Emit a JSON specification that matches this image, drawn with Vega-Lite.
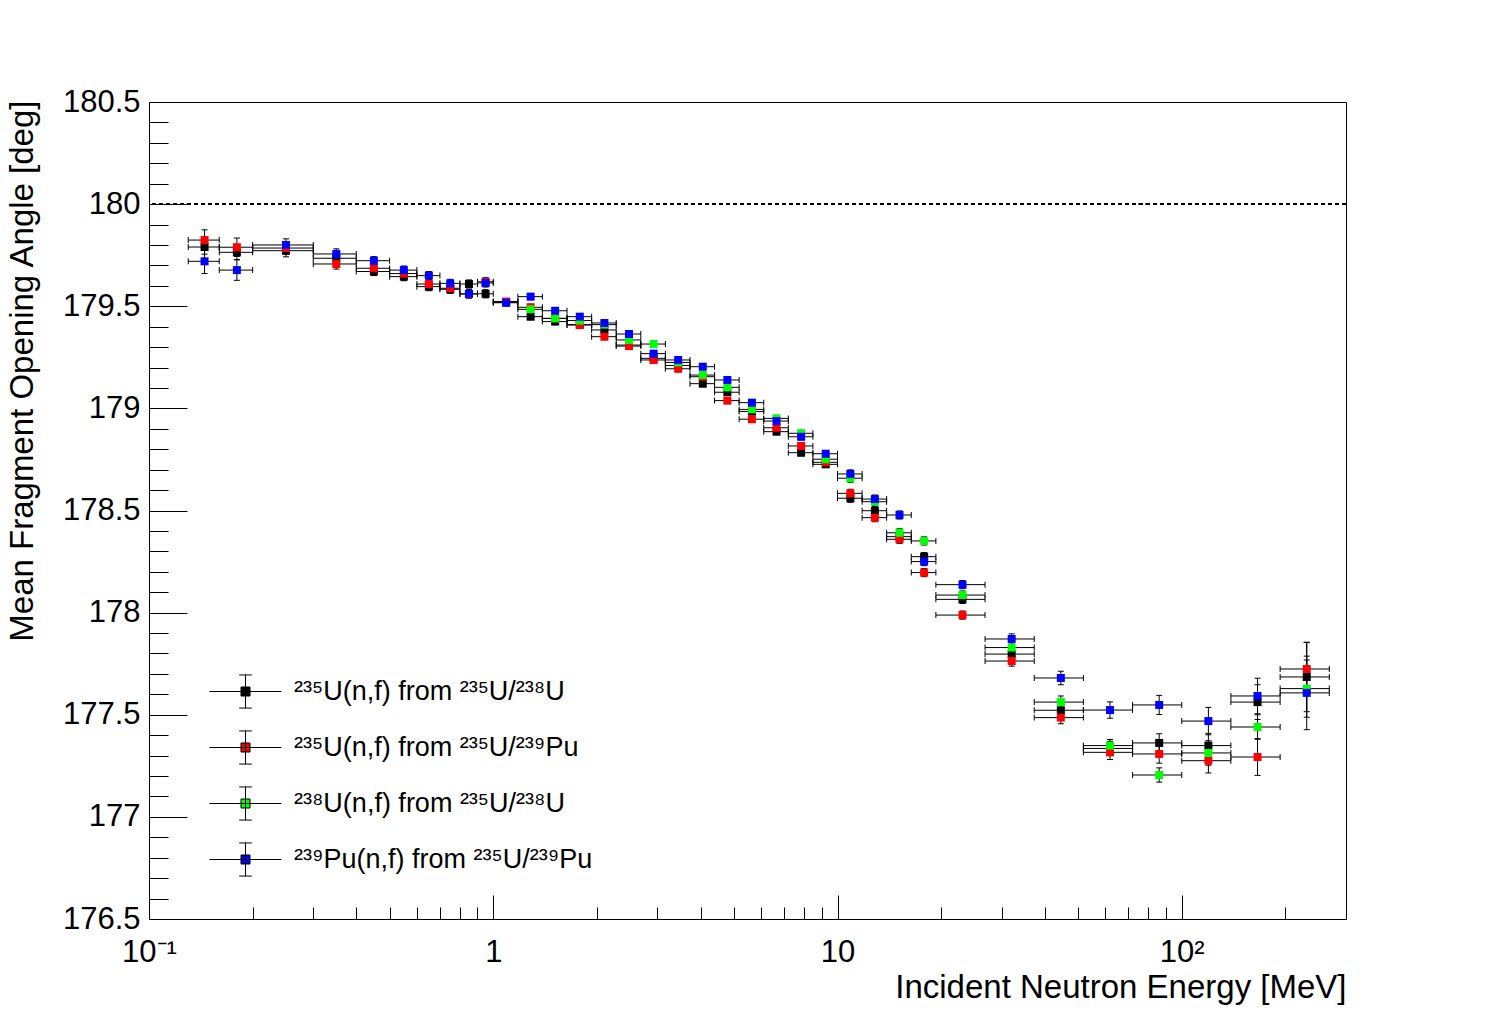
{
  "$schema": "https://vega.github.io/schema/vega-lite/v6.json",
  "background": "white",
  "autosize": {"type": "none"},
  "padding": {"left": 149, "top": 102, "right": 150, "bottom": 103},
  "width": 1197,
  "height": 817,
  "data": {
    "values": [
      {"s": "a", "e": 0.145, "lo": 0.13, "hi": 0.16, "y": 179.79, "err": 0.035},
      {"s": "a", "e": 0.18, "lo": 0.16, "hi": 0.2, "y": 179.764, "err": 0.035},
      {"s": "a", "e": 0.25, "lo": 0.2, "hi": 0.3, "y": 179.772, "err": 0.03},
      {"s": "a", "e": 0.35, "lo": 0.3, "hi": 0.4, "y": 179.735, "err": 0.025},
      {"s": "a", "e": 0.45, "lo": 0.4, "hi": 0.5, "y": 179.67, "err": 0.02},
      {"s": "a", "e": 0.55, "lo": 0.5, "hi": 0.6, "y": 179.645, "err": 0.02},
      {"s": "a", "e": 0.65, "lo": 0.6, "hi": 0.7, "y": 179.596, "err": 0.02},
      {"s": "a", "e": 0.75, "lo": 0.7, "hi": 0.8, "y": 179.583, "err": 0.02},
      {"s": "a", "e": 0.85, "lo": 0.8, "hi": 0.9, "y": 179.609, "err": 0.02},
      {"s": "a", "e": 0.95, "lo": 0.9, "hi": 1.0, "y": 179.561, "err": 0.02},
      {"s": "a", "e": 1.09, "lo": 1.0, "hi": 1.179, "y": 179.52, "err": 0.015},
      {"s": "a", "e": 1.284, "lo": 1.179, "hi": 1.389, "y": 179.449, "err": 0.015},
      {"s": "a", "e": 1.513, "lo": 1.389, "hi": 1.638, "y": 179.425, "err": 0.015},
      {"s": "a", "e": 1.784, "lo": 1.638, "hi": 1.931, "y": 179.41, "err": 0.015},
      {"s": "a", "e": 2.103, "lo": 1.931, "hi": 2.276, "y": 179.384, "err": 0.015},
      {"s": "a", "e": 2.479, "lo": 2.276, "hi": 2.683, "y": 179.31, "err": 0.015},
      {"s": "a", "e": 2.923, "lo": 2.683, "hi": 3.162, "y": 179.245, "err": 0.015},
      {"s": "a", "e": 3.445, "lo": 3.162, "hi": 3.728, "y": 179.21, "err": 0.015},
      {"s": "a", "e": 4.061, "lo": 3.728, "hi": 4.394, "y": 179.121, "err": 0.015},
      {"s": "a", "e": 4.787, "lo": 4.394, "hi": 5.179, "y": 179.079, "err": 0.015},
      {"s": "a", "e": 5.642, "lo": 5.179, "hi": 6.105, "y": 178.985, "err": 0.015},
      {"s": "a", "e": 6.651, "lo": 6.105, "hi": 7.197, "y": 178.886, "err": 0.015},
      {"s": "a", "e": 7.84, "lo": 7.197, "hi": 8.483, "y": 178.783, "err": 0.015},
      {"s": "a", "e": 9.242, "lo": 8.483, "hi": 10, "y": 178.726, "err": 0.015},
      {"s": "a", "e": 10.9, "lo": 10, "hi": 11.79, "y": 178.56, "err": 0.02},
      {"s": "a", "e": 12.84, "lo": 11.79, "hi": 13.89, "y": 178.499, "err": 0.02},
      {"s": "a", "e": 15.14, "lo": 13.89, "hi": 16.38, "y": 178.372, "err": 0.02},
      {"s": "a", "e": 17.85, "lo": 16.38, "hi": 19.31, "y": 178.274, "err": 0.02},
      {"s": "a", "e": 23.07, "lo": 19.31, "hi": 26.83, "y": 178.065, "err": 0.02},
      {"s": "a", "e": 32.06, "lo": 26.83, "hi": 37.28, "y": 177.797, "err": 0.025},
      {"s": "a", "e": 44.54, "lo": 37.28, "hi": 51.79, "y": 177.522, "err": 0.03},
      {"s": "a", "e": 61.88, "lo": 51.79, "hi": 71.97, "y": 177.335, "err": 0.035},
      {"s": "a", "e": 85.99, "lo": 71.97, "hi": 100, "y": 177.362, "err": 0.045},
      {"s": "a", "e": 119.5, "lo": 100, "hi": 138.9, "y": 177.349, "err": 0.06},
      {"s": "a", "e": 166, "lo": 138.9, "hi": 193.1, "y": 177.562, "err": 0.085},
      {"s": "a", "e": 230.7, "lo": 193.1, "hi": 268.3, "y": 177.685, "err": 0.17},

      {"s": "b", "e": 0.145, "lo": 0.13, "hi": 0.16, "y": 179.824, "err": 0.05},
      {"s": "b", "e": 0.18, "lo": 0.16, "hi": 0.2, "y": 179.789, "err": 0.045},
      {"s": "b", "e": 0.25, "lo": 0.2, "hi": 0.3, "y": 179.785, "err": 0.03},
      {"s": "b", "e": 0.35, "lo": 0.3, "hi": 0.4, "y": 179.707, "err": 0.025},
      {"s": "b", "e": 0.45, "lo": 0.4, "hi": 0.5, "y": 179.686, "err": 0.02},
      {"s": "b", "e": 0.55, "lo": 0.5, "hi": 0.6, "y": 179.66, "err": 0.02},
      {"s": "b", "e": 0.65, "lo": 0.6, "hi": 0.7, "y": 179.609, "err": 0.02},
      {"s": "b", "e": 0.75, "lo": 0.7, "hi": 0.8, "y": 179.588, "err": 0.02},
      {"s": "b", "e": 0.85, "lo": 0.8, "hi": 0.9, "y": 179.56, "err": 0.02},
      {"s": "b", "e": 0.95, "lo": 0.9, "hi": 1.0, "y": 179.62, "err": 0.02},
      {"s": "b", "e": 1.09, "lo": 1.0, "hi": 1.179, "y": 179.523, "err": 0.015},
      {"s": "b", "e": 1.284, "lo": 1.179, "hi": 1.389, "y": 179.495, "err": 0.015},
      {"s": "b", "e": 1.513, "lo": 1.389, "hi": 1.638, "y": 179.44, "err": 0.015},
      {"s": "b", "e": 1.784, "lo": 1.638, "hi": 1.931, "y": 179.408, "err": 0.015},
      {"s": "b", "e": 2.103, "lo": 1.931, "hi": 2.276, "y": 179.351, "err": 0.015},
      {"s": "b", "e": 2.479, "lo": 2.276, "hi": 2.683, "y": 179.305, "err": 0.015},
      {"s": "b", "e": 2.923, "lo": 2.683, "hi": 3.162, "y": 179.237, "err": 0.015},
      {"s": "b", "e": 3.445, "lo": 3.162, "hi": 3.728, "y": 179.194, "err": 0.015},
      {"s": "b", "e": 4.061, "lo": 3.728, "hi": 4.394, "y": 179.155, "err": 0.015},
      {"s": "b", "e": 4.787, "lo": 4.394, "hi": 5.179, "y": 179.038, "err": 0.015},
      {"s": "b", "e": 5.642, "lo": 5.179, "hi": 6.105, "y": 178.947, "err": 0.015},
      {"s": "b", "e": 6.651, "lo": 6.105, "hi": 7.197, "y": 178.905, "err": 0.015},
      {"s": "b", "e": 7.84, "lo": 7.197, "hi": 8.483, "y": 178.816, "err": 0.015},
      {"s": "b", "e": 9.242, "lo": 8.483, "hi": 10, "y": 178.736, "err": 0.015},
      {"s": "b", "e": 10.9, "lo": 10, "hi": 11.79, "y": 178.584, "err": 0.02},
      {"s": "b", "e": 12.84, "lo": 11.79, "hi": 13.89, "y": 178.465, "err": 0.02},
      {"s": "b", "e": 15.14, "lo": 13.89, "hi": 16.38, "y": 178.359, "err": 0.02},
      {"s": "b", "e": 17.85, "lo": 16.38, "hi": 19.31, "y": 178.196, "err": 0.02},
      {"s": "b", "e": 23.07, "lo": 19.31, "hi": 26.83, "y": 177.988, "err": 0.02},
      {"s": "b", "e": 32.06, "lo": 26.83, "hi": 37.28, "y": 177.763, "err": 0.025},
      {"s": "b", "e": 44.54, "lo": 37.28, "hi": 51.79, "y": 177.486, "err": 0.03},
      {"s": "b", "e": 61.88, "lo": 51.79, "hi": 71.97, "y": 177.316, "err": 0.035},
      {"s": "b", "e": 85.99, "lo": 71.97, "hi": 100, "y": 177.308, "err": 0.045},
      {"s": "b", "e": 119.5, "lo": 100, "hi": 138.9, "y": 177.275, "err": 0.06},
      {"s": "b", "e": 166, "lo": 138.9, "hi": 193.1, "y": 177.293, "err": 0.09},
      {"s": "b", "e": 230.7, "lo": 193.1, "hi": 268.3, "y": 177.724, "err": 0.13},

      {"s": "c", "e": 1.284, "lo": 1.179, "hi": 1.389, "y": 179.485, "err": 0.015},
      {"s": "c", "e": 1.513, "lo": 1.389, "hi": 1.638, "y": 179.441, "err": 0.015},
      {"s": "c", "e": 1.784, "lo": 1.638, "hi": 1.931, "y": 179.43, "err": 0.015},
      {"s": "c", "e": 2.103, "lo": 1.931, "hi": 2.276, "y": 179.41, "err": 0.015},
      {"s": "c", "e": 2.479, "lo": 2.276, "hi": 2.683, "y": 179.335, "err": 0.015},
      {"s": "c", "e": 2.923, "lo": 2.683, "hi": 3.162, "y": 179.315, "err": 0.015},
      {"s": "c", "e": 3.445, "lo": 3.162, "hi": 3.728, "y": 179.225, "err": 0.015},
      {"s": "c", "e": 4.061, "lo": 3.728, "hi": 4.394, "y": 179.163, "err": 0.015},
      {"s": "c", "e": 4.787, "lo": 4.394, "hi": 5.179, "y": 179.103, "err": 0.015},
      {"s": "c", "e": 5.642, "lo": 5.179, "hi": 6.105, "y": 178.995, "err": 0.015},
      {"s": "c", "e": 6.651, "lo": 6.105, "hi": 7.197, "y": 178.951, "err": 0.015},
      {"s": "c", "e": 7.84, "lo": 7.197, "hi": 8.483, "y": 178.878, "err": 0.015},
      {"s": "c", "e": 9.242, "lo": 8.483, "hi": 10, "y": 178.751, "err": 0.015},
      {"s": "c", "e": 10.9, "lo": 10, "hi": 11.79, "y": 178.658, "err": 0.02},
      {"s": "c", "e": 12.84, "lo": 11.79, "hi": 13.89, "y": 178.543, "err": 0.02},
      {"s": "c", "e": 15.14, "lo": 13.89, "hi": 16.38, "y": 178.391, "err": 0.02},
      {"s": "c", "e": 17.85, "lo": 16.38, "hi": 19.31, "y": 178.351, "err": 0.02},
      {"s": "c", "e": 23.07, "lo": 19.31, "hi": 26.83, "y": 178.086, "err": 0.02},
      {"s": "c", "e": 32.06, "lo": 26.83, "hi": 37.28, "y": 177.829, "err": 0.025},
      {"s": "c", "e": 44.54, "lo": 37.28, "hi": 51.79, "y": 177.562, "err": 0.03},
      {"s": "c", "e": 61.88, "lo": 51.79, "hi": 71.97, "y": 177.349, "err": 0.03},
      {"s": "c", "e": 85.99, "lo": 71.97, "hi": 100, "y": 177.205, "err": 0.035},
      {"s": "c", "e": 119.5, "lo": 100, "hi": 138.9, "y": 177.313, "err": 0.06},
      {"s": "c", "e": 166, "lo": 138.9, "hi": 193.1, "y": 177.44, "err": 0.06},
      {"s": "c", "e": 230.7, "lo": 193.1, "hi": 268.3, "y": 177.628, "err": 0.14},

      {"s": "d", "e": 0.145, "lo": 0.13, "hi": 0.16, "y": 179.72, "err": 0.06},
      {"s": "d", "e": 0.18, "lo": 0.16, "hi": 0.2, "y": 179.677, "err": 0.05},
      {"s": "d", "e": 0.25, "lo": 0.2, "hi": 0.3, "y": 179.8, "err": 0.03},
      {"s": "d", "e": 0.35, "lo": 0.3, "hi": 0.4, "y": 179.756, "err": 0.025},
      {"s": "d", "e": 0.45, "lo": 0.4, "hi": 0.5, "y": 179.723, "err": 0.02},
      {"s": "d", "e": 0.55, "lo": 0.5, "hi": 0.6, "y": 179.677, "err": 0.02},
      {"s": "d", "e": 0.65, "lo": 0.6, "hi": 0.7, "y": 179.65, "err": 0.02},
      {"s": "d", "e": 0.75, "lo": 0.7, "hi": 0.8, "y": 179.612, "err": 0.02},
      {"s": "d", "e": 0.85, "lo": 0.8, "hi": 0.9, "y": 179.561, "err": 0.02},
      {"s": "d", "e": 0.95, "lo": 0.9, "hi": 1.0, "y": 179.614, "err": 0.02},
      {"s": "d", "e": 1.09, "lo": 1.0, "hi": 1.179, "y": 179.517, "err": 0.015},
      {"s": "d", "e": 1.284, "lo": 1.179, "hi": 1.389, "y": 179.547, "err": 0.015},
      {"s": "d", "e": 1.513, "lo": 1.389, "hi": 1.638, "y": 179.478, "err": 0.015},
      {"s": "d", "e": 1.784, "lo": 1.638, "hi": 1.931, "y": 179.449, "err": 0.015},
      {"s": "d", "e": 2.103, "lo": 1.931, "hi": 2.276, "y": 179.418, "err": 0.015},
      {"s": "d", "e": 2.479, "lo": 2.276, "hi": 2.683, "y": 179.364, "err": 0.015},
      {"s": "d", "e": 2.923, "lo": 2.683, "hi": 3.162, "y": 179.268, "err": 0.015},
      {"s": "d", "e": 3.445, "lo": 3.162, "hi": 3.728, "y": 179.237, "err": 0.015},
      {"s": "d", "e": 4.061, "lo": 3.728, "hi": 4.394, "y": 179.204, "err": 0.015},
      {"s": "d", "e": 4.787, "lo": 4.394, "hi": 5.179, "y": 179.139, "err": 0.015},
      {"s": "d", "e": 5.642, "lo": 5.179, "hi": 6.105, "y": 179.028, "err": 0.015},
      {"s": "d", "e": 6.651, "lo": 6.105, "hi": 7.197, "y": 178.938, "err": 0.015},
      {"s": "d", "e": 7.84, "lo": 7.197, "hi": 8.483, "y": 178.861, "err": 0.015},
      {"s": "d", "e": 9.242, "lo": 8.483, "hi": 10, "y": 178.778, "err": 0.015},
      {"s": "d", "e": 10.9, "lo": 10, "hi": 11.79, "y": 178.679, "err": 0.02},
      {"s": "d", "e": 12.84, "lo": 11.79, "hi": 13.89, "y": 178.556, "err": 0.02},
      {"s": "d", "e": 15.14, "lo": 13.89, "hi": 16.38, "y": 178.478, "err": 0.02},
      {"s": "d", "e": 17.85, "lo": 16.38, "hi": 19.31, "y": 178.25, "err": 0.02},
      {"s": "d", "e": 23.07, "lo": 19.31, "hi": 26.83, "y": 178.137, "err": 0.02},
      {"s": "d", "e": 32.06, "lo": 26.83, "hi": 37.28, "y": 177.871, "err": 0.025},
      {"s": "d", "e": 44.54, "lo": 37.28, "hi": 51.79, "y": 177.68, "err": 0.033},
      {"s": "d", "e": 61.88, "lo": 51.79, "hi": 71.97, "y": 177.523, "err": 0.04},
      {"s": "d", "e": 85.99, "lo": 71.97, "hi": 100, "y": 177.548, "err": 0.047},
      {"s": "d", "e": 119.5, "lo": 100, "hi": 138.9, "y": 177.469, "err": 0.067},
      {"s": "d", "e": 166, "lo": 138.9, "hi": 193.1, "y": 177.592, "err": 0.087},
      {"s": "d", "e": 230.7, "lo": 193.1, "hi": 268.3, "y": 177.607, "err": 0.18}
    ]
  },
  "encoding": {
    "x": {
      "field": "e",
      "type": "quantitative",
      "scale": {"type": "log", "domain": [0.1, 300], "nice": false},
      "axis": {
        "title": "Incident Neutron Energy [MeV]",
        "values": [0.1, 0.2, 0.3, 0.4, 0.5, 0.6, 0.7, 0.8, 0.9, 1, 2, 3, 4, 5, 6, 7, 8, 9, 10, 20, 30, 40, 50, 60, 70, 80, 90, 100, 200, 300],
        "labelExpr": "datum.value == 0.1 ? '10⁻¹' : datum.value == 1 ? '1' : datum.value == 10 ? '10' : datum.value == 100 ? '10²' : ''",
        "tickSize": {"condition": {"test": "indexof([0.1, 1, 10, 100], datum.value) >= 0", "value": -24}, "value": -12},
        "labelPadding": 42,
        "titleX": 1197,
        "titleY": 78,
        "titleAlign": "right",
        "titleBaseline": "alphabetic",
        "titleAngle": 0
      }
    },
    "y": {
      "field": "y",
      "type": "quantitative",
      "scale": {"domain": [176.5, 180.5], "nice": false, "zero": false},
      "axis": {
        "title": "Mean Fragment Opening Angle [deg]",
        "values": [176.5, 176.6, 176.7, 176.8, 176.9, 177, 177.1, 177.2, 177.3, 177.4, 177.5, 177.6, 177.7, 177.8, 177.9, 178, 178.1, 178.2, 178.3, 178.4, 178.5, 178.6, 178.7, 178.8, 178.9, 179, 179.1, 179.2, 179.3, 179.4, 179.5, 179.6, 179.7, 179.8, 179.9, 180, 180.1, 180.2, 180.3, 180.4, 180.5],
        "labelExpr": "(datum.value * 10) % 5 == 0 ? format(datum.value, '~g') : ''",
        "tickSize": {"condition": {"test": "(datum.value * 10) % 5 == 0", "value": -38}, "value": -19},
        "labelPadding": 47,
        "titleX": -143,
        "titleY": -2,
        "titleAngle": 270,
        "titleAlign": "right",
        "titleBaseline": "top"
      }
    }
  },
  "layer": [
    {
      "mark": {"type": "rule", "color": "black", "strokeWidth": 1, "strokeDash": [4, 3]},
      "encoding": {"y": {"datum": 180}, "x": null}
    },
    {
      "mark": {"type": "rule", "color": "black", "strokeWidth": 1},
      "encoding": {"x": {"field": "lo", "type": "quantitative"}, "x2": {"field": "hi"}}
    },
    {
      "mark": {"type": "tick", "orient": "vertical", "color": "black", "size": 6, "thickness": 1, "opacity": 1},
      "encoding": {"x": {"field": "lo", "type": "quantitative"}}
    },
    {
      "mark": {"type": "tick", "orient": "vertical", "color": "black", "size": 6, "thickness": 1, "opacity": 1},
      "encoding": {"x": {"field": "hi", "type": "quantitative"}}
    },
    {
      "mark": {"type": "errorbar", "color": "black", "thickness": 1, "ticks": {"size": 6, "color": "black", "opacity": 1}},
      "encoding": {"yError": {"field": "err"}}
    },
    {
      "mark": {"type": "point", "shape": "square", "filled": true, "size": 64, "opacity": 1, "strokeWidth": 0},
      "encoding": {
        "color": {
          "field": "s",
          "type": "nominal",
          "scale": {"domain": ["a", "b", "c", "d"], "range": ["#000000", "#ff0000", "#00ff00", "#0000ff"]},
          "legend": {
            "title": null,
            "orient": "none",
            "legendX": 78,
            "legendY": 571,
            "symbolType": "M-2,0H2M0,-0.92V0.92M-0.35,-0.92H0.35M-0.35,0.92H0.35M-0.25,-0.25H0.25V0.25H-0.25Z",
            "symbolSize": 1296,
            "symbolStrokeColor": "black",
            "symbolStrokeWidth": 1,
            "symbolOpacity": 1,
            "labelFont": "Liberation Sans",
            "labelFontSize": 27,
            "labelColor": "black",
            "labelOffset": 30,
            "labelLimit": 0,
            "rowPadding": 17,
            "labelExpr": "datum.value == 'a' ? '²³⁵U(n,f) from  ²³⁵U/²³⁸U' : datum.value == 'b' ? '²³⁵U(n,f) from  ²³⁵U/²³⁹Pu' : datum.value == 'c' ? '²³⁸U(n,f) from  ²³⁵U/²³⁸U' : '²³⁹Pu(n,f) from  ²³⁵U/²³⁹Pu'"
          }
        }
      }
    }
  ],
  "config": {
    "font": "Liberation Sans",
    "view": {"stroke": "black", "strokeWidth": 1},
    "axis": {
      "grid": false,
      "domainColor": "black",
      "tickColor": "black",
      "tickWidth": 1,
      "labelColor": "black",
      "labelFont": "Liberation Sans",
      "labelFontSize": 31,
      "labelOverlap": false,
      "labelFlush": false,
      "labelBound": false,
      "titleColor": "black",
      "titleFont": "Liberation Sans",
      "titleFontSize": 33,
      "titleFontWeight": "normal"
    }
  }
}
